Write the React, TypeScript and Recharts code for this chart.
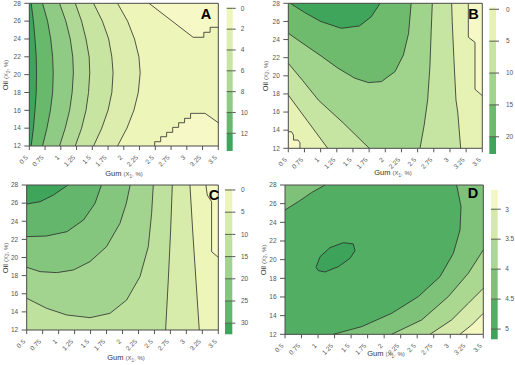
import { ScatterChart, Scatter, XAxis, YAxis, ReferenceArea, ReferenceLine } from 'recharts'

const FONT = '"Liberation Sans", Arial, sans-serif'

// shared axes
const X_DOMAIN = [0.5, 3.5]
const Y_DOMAIN = [12, 28]
const X_TICKS = [0.5, 0.75, 1, 1.25, 1.5, 1.75, 2, 2.25, 2.5, 2.75, 3, 3.25, 3.5]
const X_LABELS = ['0.5', '0.75', '1', '1.25', '1.5', '1.75', '2', '2.25', '2.5', '2.75', '3', '3.25', '3.5']
const Y_TICKS = [12, 14, 16, 18, 20, 22, 24, 26, 28]

// ---- panel A: contour lines as gum value at each oil level ----
const A_OIL = [28, 26, 24, 22, 20.2, 18, 16, 14, 12]
const A_GUM_2 = [1.9, 2.06, 2.17, 2.24, 2.26, 2.23, 2.16, 2.05, 1.9]
const A_GUM_4 = [1.52, 1.66, 1.76, 1.81, 1.83, 1.81, 1.75, 1.65, 1.52]
const A_GUM_6 = [1.23, 1.33, 1.4, 1.45, 1.46, 1.44, 1.4, 1.33, 1.23]
const A_GUM_8 = [0.98, 1.08, 1.15, 1.19, 1.2, 1.18, 1.14, 1.07, 0.98]
const A_GUM_10 = [0.71, 0.79, 0.84, 0.87, 0.88, 0.87, 0.835, 0.78, 0.71]
const A_GUM_12 = [0.53, 0.565, 0.59, 0.61, 0.615, 0.61, 0.59, 0.565, 0.53]
const A_STEP_TOP = [[2.4, 28], [3.1, 24.19], [3.27, 24.19], [3.27, 24.75], [3.37, 24.75], [3.37, 25.31], [3.5, 25.31]]
const A_STEP_BOTTOM = [
  [2.49, 12], [2.49, 12.48], [2.585, 12.48], [2.585, 13.04], [2.68, 13.04], [2.68, 13.53],
  [2.776, 13.53], [2.776, 14.09], [2.87, 14.09], [2.87, 14.61], [2.965, 14.61], [2.965, 15.1],
  [3.06, 15.1], [3.06, 15.66], [3.29, 15.66], [3.5, 14.61],
]
const A_COLORS = ['#f6f9c6', '#eef5b9', '#dcedad', '#c8e4a1', '#afd994', '#90cb85', '#69b96d', '#3fa55b']
const A_BAR = [-0.12, 0, 2, 4, 6, 8, 10, 12, 13.7]
const A_BAR_TICKS = [0, 2, 4, 6, 8, 10, 12]

// ---- panel B ----
const B_C20 = [[0.53, 28], [0.75, 27], [1, 26], [1.32, 25.24], [1.6, 25.5], [1.78, 26.5], [1.92, 28]]
const B_C15 = [
  [0.5, 24.69], [0.76, 23.4], [1.02, 22.12], [1.27, 20.83], [1.53, 19.73], [1.74, 19.25],
  [1.94, 19.36], [2.15, 20.46], [2.28, 22.3], [2.36, 24.69], [2.4, 28],
]
const B_D10 = [[0.5, 21.38], [0.72, 19.5], [0.964, 17.33], [1.35, 14.8], [1.752, 12]]
const B_V10 = [[2.537, 12], [2.6, 14.5], [2.655, 17.33], [2.69, 21], [2.71, 25], [2.727, 28]]
const B_D5 = [[0.5, 17.88], [0.8, 14.98], [1.109, 12]]
const B_V5 = [[3.166, 12], [3.12, 16], [3.093, 17.33], [3.06, 22], [3.035, 26], [3.026, 28]]
const B_STEP_LEFT = [[0.5, 13.83], [0.55, 13.83], [0.58, 13.46], [0.58, 12.91], [0.65, 12.91], [0.68, 12.62], [0.68, 12]]
const B_STEP_RIGHT = [[3.284, 28], [3.284, 24.25], [3.387, 23.7], [3.387, 18.51], [3.5, 17.81]]
const B_COLORS = ['#f6f9c6', '#e6f2b4', '#c6e4a2', '#a0d38c', '#6fbb6d', '#3fa55b']
const B_BAR = [-0.31, 0, 5, 10, 15, 20, 22.7]
const B_BAR_TICKS = [0, 5, 10, 15, 20]

// ---- panel C ----
const C_C30 = [[0.5, 25.9], [0.71, 26.16], [0.92, 26.9], [1.07, 27.63], [1.15, 28]]
const C_C25 = [[0.5, 22.3], [0.81, 22.37], [1.13, 22.85], [1.39, 24.14], [1.57, 25.98], [1.67, 28]]
const C_C20 = [
  [0.5, 18.92], [0.71, 18.44], [0.97, 18.33], [1.23, 18.62], [1.49, 19.54], [1.75, 21.2],
  [1.96, 23.77], [2.06, 25.98], [2.12, 28],
]
const C_C15 = [
  [0.5, 15.5], [0.813, 14.39], [1.126, 13.66], [1.491, 13.36], [1.804, 13.84], [2.065, 15.31],
  [2.274, 17.89], [2.404, 21.2], [2.456, 24.87], [2.482, 28],
]
const C_V10 = [[2.675, 12], [2.717, 17.52], [2.754, 23.04], [2.78, 28]]
const C_V5 = [[3.202, 12], [3.15, 17.52], [3.098, 23.04], [3.056, 28]]
const C_STEP = [[3.306, 28], [3.327, 26.9], [3.395, 26.16], [3.395, 20.64], [3.5, 20.02]]
const C_COLORS = ['#f6f9c6', '#edf5b9', '#d7ecab', '#bfe19e', '#a3d48f', '#85c67f', '#63b66b', '#3fa55b']
const C_BAR = [-0.22, 0, 5, 10, 15, 20, 25, 30, 32.5]
const C_BAR_TICKS = [0, 5, 10, 15, 20, 25, 30]

// ---- panel D ----
const D_C5 = [
  [0.969, 19.18], [1.03, 20.32], [1.181, 21.29], [1.383, 21.82], [1.534, 21.68], [1.559, 20.96],
  [1.483, 20.14], [1.307, 19.25], [1.105, 18.68], [1.004, 18.82], [0.969, 19.18],
]
const D_C45 = [
  [3.097, 28], [3.163, 25.68], [3.148, 23.18], [3.047, 20.68], [2.845, 18.18], [2.517, 16.04],
  [2.114, 14.25], [1.66, 12.82], [1.231, 12],
]
const D_C45_CORNER = [[0.5, 25.32], [0.7, 26.21], [0.9, 27.18], [1.105, 28]]
const D_C4 = [[3.5, 21.04], [3.273, 18.54], [2.971, 16.04], [2.568, 13.54], [2.114, 12]]
const D_C35 = [[3.5, 16.93], [3.273, 15.32], [3.021, 13.54], [2.694, 12]]
const D_C3 = [[3.5, 14.25], [3.324, 13], [3.147, 12]]
const D_COLORS = ['#f3f8c1', '#d5eaaa', '#aad890', '#7ec27a', '#52ae62', '#3da35a']
const D_BAR = [2.68, 3, 3.5, 4, 4.5, 5, 5.17]
const D_BAR_TICKS = [3, 3.5, 4, 4.5, 5]

// plot corners
const BL = [X_DOMAIN[0], Y_DOMAIN[0]]
const TL = [X_DOMAIN[0], Y_DOMAIN[1]]
const TR = [X_DOMAIN[1], Y_DOMAIN[1]]
const BR = [X_DOMAIN[1], Y_DOMAIN[0]]
const RECT = [BL, TL, TR, BR]

type Region = { pts: number[][]; fill: string }

const toPts = (a: number[][]) => a.map(([x, y]) => ({ x, y }))
const zip = (xs: number[], ys: number[]) => xs.map((x, i) => [x, ys[i]])

const A_CURVES = [A_GUM_2, A_GUM_4, A_GUM_6, A_GUM_8, A_GUM_10, A_GUM_12].map(g => zip(g, A_OIL))

const A_REGIONS: Region[] = [
  { pts: RECT, fill: A_COLORS[1] },
  { pts: [...A_STEP_TOP, TR], fill: A_COLORS[0] },
  { pts: [...A_STEP_BOTTOM, BR], fill: A_COLORS[0] },
  ...A_CURVES.map((c, i) => ({ pts: [...c, BL, TL], fill: A_COLORS[i + 2] })),
]
const A_LINES = [A_STEP_TOP, A_STEP_BOTTOM, ...A_CURVES]

const B_REGIONS: Region[] = [
  { pts: RECT, fill: B_COLORS[1] },
  { pts: [...B_D5, ...B_V5, TL], fill: B_COLORS[2] },
  { pts: [...B_D10, ...B_V10, TL], fill: B_COLORS[3] },
  { pts: [...B_C15, TL], fill: B_COLORS[4] },
  { pts: B_C20, fill: B_COLORS[5] },
  { pts: [...B_STEP_LEFT, BL], fill: B_COLORS[0] },
  { pts: [...B_STEP_RIGHT, TR], fill: B_COLORS[0] },
]
const B_LINES = [B_D5, B_V5, B_D10, B_V10, B_C15, B_C20, B_STEP_LEFT, B_STEP_RIGHT]

const C_REGIONS: Region[] = [
  { pts: RECT, fill: C_COLORS[1] },
  { pts: [...C_V5, TL, BL], fill: C_COLORS[2] },
  { pts: [...C_V10, TL, BL], fill: C_COLORS[3] },
  { pts: [...C_C15, TL], fill: C_COLORS[4] },
  { pts: [...C_C20, TL], fill: C_COLORS[5] },
  { pts: [...C_C25, TL], fill: C_COLORS[6] },
  { pts: [...C_C30, TL], fill: C_COLORS[7] },
  { pts: [...C_STEP, TR], fill: C_COLORS[0] },
]
const C_LINES = [C_V5, C_V10, C_C15, C_C20, C_C25, C_C30, C_STEP]

const D_REGIONS: Region[] = [
  { pts: RECT, fill: D_COLORS[0] },
  { pts: [...D_C3, BL, TL, TR], fill: D_COLORS[1] },
  { pts: [...D_C35, BL, TL, TR], fill: D_COLORS[2] },
  { pts: [...D_C4, BL, TL, TR], fill: D_COLORS[3] },
  { pts: [...D_C45, BL, ...D_C45_CORNER], fill: D_COLORS[4] },
  { pts: D_C5, fill: D_COLORS[5] },
]
const D_LINES = [D_C3, D_C35, D_C4, D_C45, D_C45_CORNER, D_C5]

const NoDot = () => <g />

const renderXTick = (props: any) => {
  const { x, y, payload } = props
  const label = X_LABELS[X_TICKS.indexOf(payload.value)]
  return (
    <g transform={`translate(${x - 1},${y + 6})`}>
      <text textAnchor="end" transform="rotate(-45)" fontSize={6.5} fill="#555">
        {label}
      </text>
    </g>
  )
}

interface PanelProps {
  left: number
  top: number
  width: number
  height: number
  marginTop: number
  marginRight: number
  yWidth: number
  xHeight: number
  regions: Region[]
  lines: number[][][]
}

function ContourPanel({ left, top, width, height, marginTop, marginRight, yWidth, xHeight, regions, lines }: PanelProps) {
  return (
    <div style={{ position: 'absolute', left, top }}>
      <ScatterChart width={width} height={height} margin={{ top: marginTop, right: marginRight, bottom: 0, left: 0 }}>
        <XAxis
          type="number"
          dataKey="x"
          domain={X_DOMAIN}
          ticks={X_TICKS}
          interval={0}
          height={xHeight}
          tick={renderXTick}
          tickSize={4}
          tickLine={{ stroke: '#555' }}
          axisLine={false}
        />
        <YAxis
          type="number"
          dataKey="y"
          domain={Y_DOMAIN}
          ticks={Y_TICKS}
          interval={0}
          width={yWidth}
          tick={{ fontSize: 6.5, fill: '#555' }}
          tickSize={5}
          tickMargin={3.5}
          tickLine={{ stroke: '#555' }}
          axisLine={false}
        />
        {regions.map((r, i) => (
          <Scatter
            key={'fill' + i}
            data={toPts(r.pts)}
            shape={NoDot}
            line={{ fill: r.fill, stroke: 'none' }}
            lineType="joint"
            isAnimationActive={false}
          />
        ))}
        {lines.map((l, i) => (
          <Scatter
            key={'line' + i}
            data={toPts(l)}
            shape={NoDot}
            line={{ fill: 'none', stroke: '#2b2b2b', strokeWidth: 0.8 }}
            lineType="joint"
            isAnimationActive={false}
          />
        ))}
        <Scatter
          data={toPts([...RECT, BL])}
          shape={NoDot}
          line={{ fill: 'none', stroke: '#4a4a4a', strokeWidth: 1 }}
          lineType="joint"
          isAnimationActive={false}
        />
      </ScatterChart>
    </div>
  )
}

interface BarProps {
  left: number
  top: number
  height: number
  marginLeft: number
  marginTop: number
  marginBottom: number
  barWidth: number
  axisWidth: number
  tickMargin: number
  edges: number[]
  ticks: number[]
  colors: string[]
}

function ColorBar({ left, top, height, marginLeft, marginTop, marginBottom, barWidth, axisWidth, tickMargin, edges, ticks, colors }: BarProps) {
  const domain = [edges[0], edges[edges.length - 1]]
  return (
    <div style={{ position: 'absolute', left, top }}>
      <ScatterChart
        width={marginLeft + barWidth + axisWidth}
        height={height}
        margin={{ top: marginTop, right: 0, bottom: marginBottom, left: marginLeft }}
      >
        <XAxis type="number" dataKey="x" domain={[0, 1]} hide />
        <YAxis
          type="number"
          dataKey="y"
          domain={domain}
          reversed
          orientation="right"
          ticks={ticks}
          interval={0}
          width={axisWidth}
          tick={{ fontSize: 6.5, fill: '#555', textAnchor: 'start' }}
          tickSize={3}
          tickMargin={tickMargin}
          tickLine={{ stroke: '#555' }}
          axisLine={false}
        />
        <Scatter data={[{ x: 0, y: domain[0] }]} shape={NoDot} isAnimationActive={false} />
        {colors.map((c, i) => (
          <ReferenceArea
            key={'band' + i}
            x1={0}
            x2={1}
            y1={edges[i]}
            y2={edges[i + 1]}
            fill={c}
            fillOpacity={1}
            stroke="none"
          />
        ))}
        {ticks.map(t => (
          <ReferenceLine key={'t' + t} y={t} stroke="#55604d" strokeWidth={1} />
        ))}
      </ScatterChart>
    </div>
  )
}

function XTitle({ x, y }: { x: number; y: number }) {
  return (
    <text x={x} y={y} textAnchor="middle" fill="#333">
      <tspan fontSize={7.5} fill="#333">Gum </tspan>
      <tspan fontSize={6} fill="#555">(X</tspan>
      <tspan fontSize={4.5} fill="#555" dy={1.5}>1</tspan>
      <tspan fontSize={6} fill="#555" dy={-1.5}>, %)</tspan>
    </text>
  )
}

function YTitle({ x, y }: { x: number; y: number }) {
  return (
    <text transform={`translate(${x},${y}) rotate(-90)`} textAnchor="middle" dy={2.5} fill="#333">
      <tspan fontSize={7.5} fill="#333">Oil </tspan>
      <tspan fontSize={6} fill="#555">(X</tspan>
      <tspan fontSize={4.5} fill="#555" dy={1.5}>2</tspan>
      <tspan fontSize={6} fill="#555" dy={-1.5}>, %)</tspan>
    </text>
  )
}

export default function App() {
  return (
    <div
      style={{
        position: 'absolute',
        left: 0,
        top: 0,
        width: 515,
        height: 365,
        overflow: 'hidden',
        background: '#fff',
        fontFamily: FONT,
      }}
    >
      <ContourPanel left={0} top={0} width={222} height={182} marginTop={3.3} marginRight={3.7} yWidth={29.3} xHeight={36} regions={A_REGIONS} lines={A_LINES} />
      <ContourPanel left={255} top={0} width={230} height={184.3} marginTop={3.3} marginRight={2.7} yWidth={33.3} xHeight={36} regions={B_REGIONS} lines={B_LINES} />
      <ContourPanel left={0} top={180} width={222} height={185} marginTop={5} marginRight={3.7} yWidth={26.7} xHeight={35} regions={C_REGIONS} lines={C_LINES} />
      <ContourPanel left={255} top={180} width={231} height={185} marginTop={5} marginRight={2.7} yWidth={30} xHeight={30.7} regions={D_REGIONS} lines={D_LINES} />

      <ColorBar left={220} top={0} height={160} marginLeft={6.7} marginTop={7.05} marginBottom={9} barWidth={6} axisWidth={25} tickMargin={5} edges={A_BAR} ticks={A_BAR_TICKS} colors={A_COLORS} />
      <ColorBar left={480} top={0} height={160} marginLeft={9.3} marginTop={7.3} marginBottom={6} barWidth={6.7} axisWidth={19} tickMargin={7} edges={B_BAR} ticks={B_BAR_TICKS} colors={B_COLORS} />
      <ColorBar left={218} top={180} height={160} marginLeft={7} marginTop={9} marginBottom={5.7} barWidth={7.3} axisWidth={25} tickMargin={5.7} edges={C_BAR} ticks={C_BAR_TICKS} colors={C_COLORS} />
      <ColorBar left={482} top={180} height={165} marginLeft={9} marginTop={10} marginBottom={5.7} barWidth={6.7} axisWidth={17} tickMargin={4.5} edges={D_BAR} ticks={D_BAR_TICKS} colors={D_COLORS} />

      <svg width={515} height={365} style={{ position: 'absolute', left: 0, top: 0, pointerEvents: 'none' }}>
        <XTitle x={124} y={176} />
        <XTitle x={393} y={175} />
        <XTitle x={126} y={360} />
        <XTitle x={386} y={356} />
        <YTitle x={5.5} y={75} />
        <YTitle x={265} y={76} />
        <YTitle x={5} y={258} />
        <YTitle x={263} y={260} />
        <g fontSize={14.5} fontWeight="bold" fill="#000" textAnchor="middle">
          <text x={206} y={18.5}>A</text>
          <text x={473.5} y={18.5}>B</text>
          <text x={214} y={200}>C</text>
          <text x={473} y={198}>D</text>
        </g>
      </svg>
    </div>
  )
}
